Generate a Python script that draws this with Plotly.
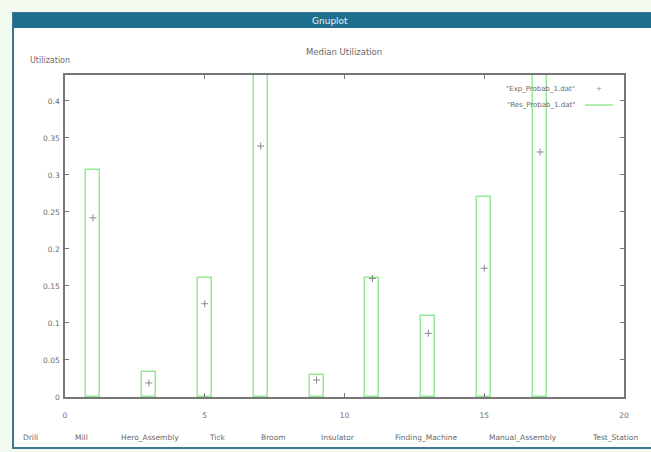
import plotly.graph_objects as go

# ---- data ----
machines = ["Drill", "Mill", "Hero_Assembly", "Tick", "Broom", "Insulator",
            "Finding_Machine", "Manual_Assembly", "Test_Station"]
x_pos = [1, 3, 5, 7, 9, 11, 13, 15, 17]
res_util = [0.307, 0.034, 0.161, 0.46, 0.030, 0.161, 0.109, 0.270, 0.45]
exp_util = [0.242, 0.019, 0.126, 0.339, 0.023, 0.160, 0.086, 0.174, 0.331]
x_ticks = [0, 5, 10, 15, 20]
y_ticks = [0, 0.05, 0.1, 0.15, 0.2, 0.25, 0.3, 0.35, 0.4]
y_tick_text = ["0", "0.05", "0.1", "0.15", "0.2", "0.25", "0.3", "0.35", "0.4"]
legend_names = ['"Exp_Probab_1.dat"', '"Res_Probab_1.dat"']

W, H = 651, 452
L, R, T, B = 65, 27, 75, 55
PW, PH = W - L - R, H - T - B

def px(x):
    return (x - L) / PW

def py(y):
    return (H - B - y) / PH

FONT = "DejaVu Sans"
TXT = "#6a6a6a"
GREEN = "#96e896"
TEAL = "#1f6e8c"

fig = go.Figure()
fig.add_trace(go.Bar(x=x_pos, y=res_util, width=0.5, name=legend_names[1],
                     marker=dict(color="white", line=dict(color=GREEN, width=1.5)),
                     showlegend=False, hoverinfo="skip"))
fig.add_trace(go.Scatter(x=x_pos, y=exp_util, mode="markers", name=legend_names[0],
                         marker=dict(symbol="cross-thin", size=5, line=dict(color="#888", width=1)),
                         showlegend=False, hoverinfo="skip"))

shapes = [
    # window body
    dict(type="rect", xref="paper", yref="paper", x0=px(13), x1=px(660), y0=py(448), y1=py(13),
         fillcolor="white", line=dict(color="#3d7890", width=2), layer="below"),
    # title bar
    dict(type="rect", xref="paper", yref="paper", x0=px(13), x1=px(660), y0=py(28), y1=py(13),
         fillcolor=TEAL, line=dict(width=0), layer="below"),
    # legend line sample
    dict(type="line", xref="paper", yref="paper", x0=px(585), x1=px(613), y0=py(105), y1=py(105),
         line=dict(color=GREEN, width=1.5)),
]

def ann(text, x, y, size, color=TXT, anchor="center"):
    return dict(text=text, x=px(x), y=py(y), xref="paper", yref="paper", showarrow=False,
                xanchor=anchor, yanchor="middle", font=dict(family=FONT, size=size, color=color))

annotations = [
    ann("Gnuplot", 330, 20.5, 9, "#e8f2f6"),
    ann("Median Utilization", 344, 52, 8.5),
    ann("Utilization", 28, 60, 8, anchor="left"),
    ann(legend_names[0], 577, 89, 7, anchor="right"),
    ann(legend_names[1], 577, 105, 7, anchor="right"),
    ann("+", 599, 89, 7, "#888"),
]
label_px = [30, 81, 150, 217, 273, 338, 426, 523, 615]
for name, lx in zip(machines, label_px):
    annotations.append(ann(name, lx, 437, 7.5))

axis_common = dict(showgrid=False, zeroline=False, showline=True, linecolor="#777", linewidth=1.5,
                   mirror="allticks", ticks="inside", ticklen=4, tickcolor="#777",
                   tickfont=dict(family=FONT, size=7.5, color=TXT))

fig.update_layout(
    width=W, height=H,
    margin=dict(l=L, r=R, t=T, b=B),
    paper_bgcolor="#f3fbf1", plot_bgcolor="white",
    xaxis=dict(range=[0, 20], tickvals=x_ticks, ticklabelstandoff=10, **axis_common),
    yaxis=dict(range=[0, 0.435], tickvals=y_ticks, ticktext=y_tick_text, ticklabelstandoff=2,
               **axis_common),
    shapes=shapes, annotations=annotations, showlegend=False, bargap=0, hovermode=False,
)
fig.write_html("out.html", config={"displayModeBar": False},
               post_script="document.body.style.margin='0';document.body.style.overflow='hidden';")
